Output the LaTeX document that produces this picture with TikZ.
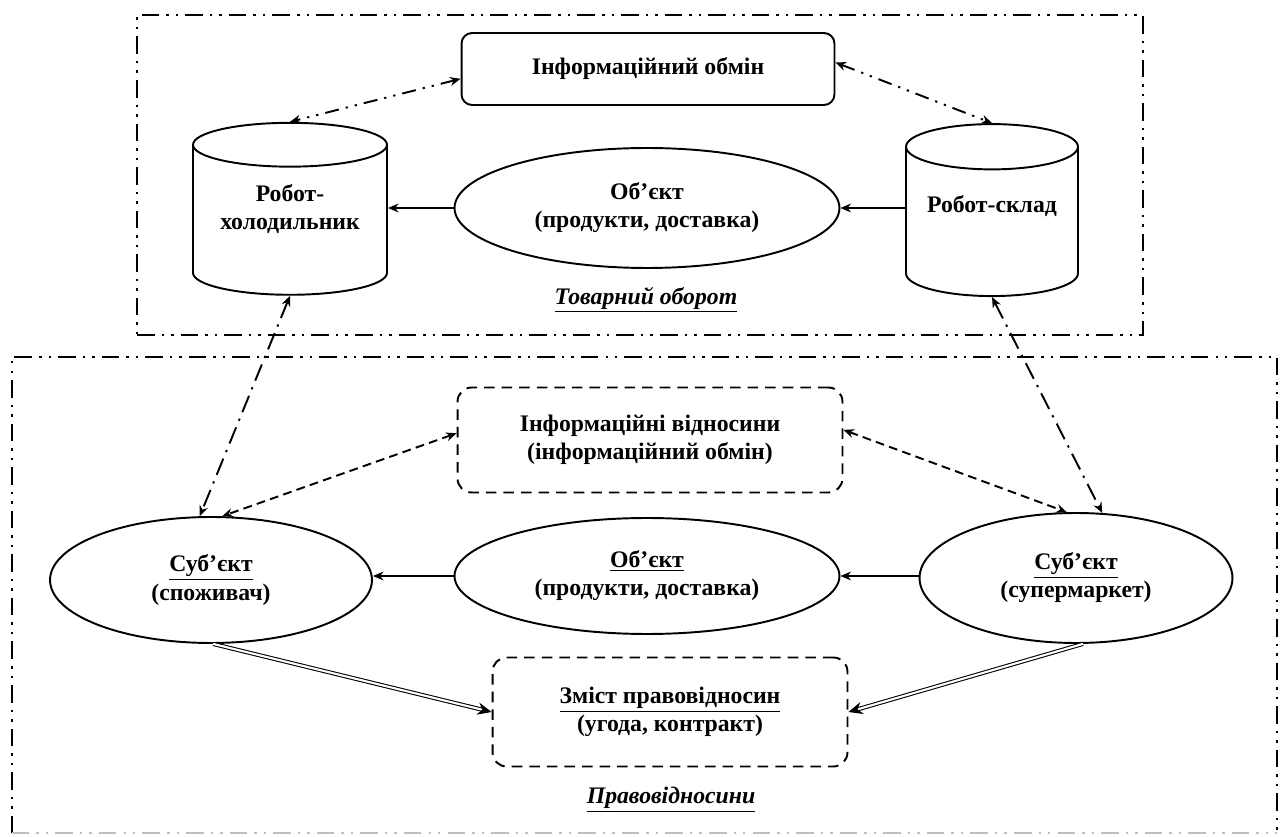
\documentclass[tikz,border=0pt]{standalone}
\usepackage{fontspec}
\setmainfont{Liberation Serif}
\usetikzlibrary{shapes.geometric, arrows.meta, positioning, calc}

\newcommand{\lifted}[2]{\raisebox{#1}[\height][\depth]{\begin{tabular}{@{}c@{}}#2\end{tabular}}}

\begin{document}
\begin{tikzpicture}[
    x=0.02cm, y=-0.02cm,
    every node/.style={font=\bfseries\fontsize{13.5}{16}\selectfont, align=center},
    frame/.style={line width=1.2pt, dash pattern=on 10pt off 4pt on 1.4pt off 4pt on 1.4pt off 4pt},
    area/.style={rectangle, minimum width=#1},
    infobox/.style={rectangle, rounded corners=6pt, draw, line width=1.1pt, minimum width=7.46cm, minimum height=1.44cm},
    dbox/.style={rectangle, rounded corners=8pt, draw, dash pattern=on 6pt off 4pt, line width=1.1pt},
    robot/.style={cylinder, shape border rotate=90, draw, line width=1.1pt, minimum height=3.44cm},
    oval/.style={ellipse, draw, line width=1.1pt},
    arrow/.style={-{Stealth[length=6pt, width=5pt]}, line width=1.1pt},
    twoway/.style={{Stealth[length=6pt, width=5pt]}-{Stealth[length=6pt, width=5pt]}, line width=1.1pt},
    ddot/.style={twoway, dash pattern=on 8pt off 4pt on 1.3pt off 4pt on 1.3pt off 4pt},
    dashdot/.style={twoway, dash pattern=on 10pt off 4pt on 1.3pt off 4pt},
    dashline/.style={twoway, dash pattern=on 5pt off 3pt},
    dline/.style={double, double distance=1.2pt, line width=0.6pt, -{Stealth[length=8pt, width=7pt]}}
]
\useasboundingbox (0,0) rectangle (1282,837);

% Commodity turnover
\node[area=20.12cm, minimum height=6.4cm, draw, frame] (trade) at (640,175) {};
\node[infobox] (info) at (648,69) {Інформаційний обмін};
\node[robot, aspect=0.29, minimum width=3.88cm] (fridge) at (290,224) {\lifted{8pt}{Робот-\\холодильник}};
\node[robot, aspect=0.32, minimum width=3.44cm] (store) at (992,226) {\lifted{11pt}{Робот-склад}};
\node[oval, minimum width=7.7cm, minimum height=2.4cm] (obj) at (647,208) {Об’єкт\\(продукти, доставка)};
\node (tlabel) at (646,300) {\itshape\underline{Товарний оборот}};

% Legal relations
\node[area=25.3cm, minimum height=9.52cm] (legal) at (644.5,595) {};
\draw[frame] (legal.south west) |- (legal.north east) -- (legal.south east);
\draw[frame, black!25] (legal.south west) -- (legal.south east);
\node[dbox, minimum width=7.7cm, minimum height=2.1cm] (rel) at (650,440) {Інформаційні відносини\\(інформаційний обмін)};
\node[oval, minimum width=6.44cm, minimum height=2.52cm] (buyer) at (211,580) {\underline{Суб’єкт}\\(споживач)};
\node[oval, minimum width=7.7cm, minimum height=2.32cm] (goods) at (647,576) {\underline{Об’єкт}\\(продукти, доставка)};
\node[oval, minimum width=6.26cm, minimum height=2.6cm] (seller) at (1076,578) {\underline{Суб’єкт}\\(супермаркет)};
\node[dbox, minimum width=7.1cm, minimum height=2.18cm] (deal) at (670,712) {\underline{Зміст правовідносин}\\(угода, контракт)};
\node (llabel) at (671,800) {\itshape\underline{Правовідносини}};

% Connections
\draw[arrow] (obj.west) -- (obj.west -| fridge.east);
\draw[arrow] (obj.east -| store.west) -- (obj.east);
\draw[ddot] (info.183) -- (fridge.top);
\draw[ddot] (info.2) -- (store.top);
\draw[dashdot] (fridge.bottom) -- (buyer.100);
\draw[dashdot] (store.bottom) -- (seller.68);
\draw[dashline] (rel.178) -- (buyer.80);
\draw[dashline] (rel.3) -- (seller.98);
\draw[arrow] (goods.west) -- (goods.west -| buyer.east);
\draw[arrow] (goods.east -| seller.west) -- (goods.east);
\draw[dline] (buyer.-88) -- (deal.west);
\draw[dline] (seller.-84) -- (deal.east);
\end{tikzpicture}
\end{document}
